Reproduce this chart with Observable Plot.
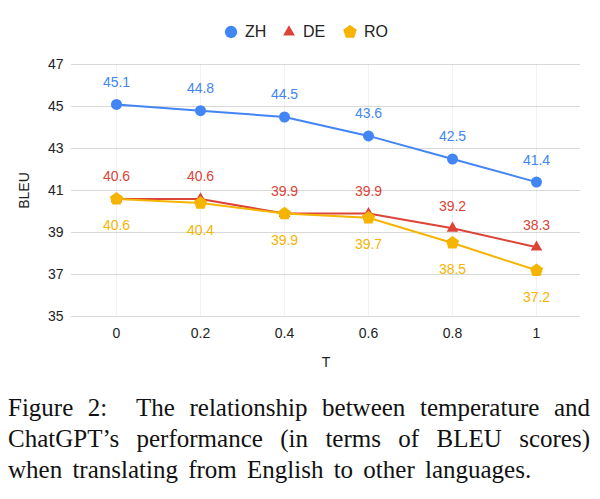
<!DOCTYPE html>
<html><head><meta charset="utf-8">
<script src="https://cdn.jsdelivr.net/npm/d3@7"></script>
<script src="https://cdn.jsdelivr.net/npm/@observablehq/plot@0.6"></script>
<style>
body{margin:0;background:#fff;width:600px;overflow:hidden;}
#legend{height:50px;position:relative;font-family:"Liberation Sans",Arial,sans-serif;font-size:16px;color:#222;}
#legend .item{position:absolute;top:22px;display:flex;align-items:center;height:20px;}
#legend svg{margin-right:7px;}
#caption{font-family:"Liberation Serif","Times New Roman",serif;font-size:25px;line-height:31px;margin:12px 10px 0 8px;color:#111;}
#caption .j{text-align:justify;text-align-last:justify;white-space:nowrap;}
#caption .l{text-align:left;word-spacing:4px;white-space:nowrap;}
</style></head>
<body>
<div id="legend"></div>
<div id="chart"></div>
<div id="caption"><div class="j">Figure 2:&nbsp; The relationship between temperature and</div><div class="j">ChatGPT’s performance (in terms of BLEU scores)</div><div class="l">when translating from English to other languages.</div></div>
<script>
const temps = ["0","0.2","0.4","0.6","0.8","1"];
const zh = [45.1,44.8,44.5,43.6,42.5,41.4];
const de = [40.6,40.6,39.9,39.9,39.2,38.3];
const ro = [40.6,40.4,39.9,39.7,38.5,37.2];
const seriesNames = ["ZH","DE","RO"];
const seriesColors = ["#4285F4","#DB4437","#F4B400"];
const yTicks = [35,37,39,41,43,45,47];

const pentagon = {draw(ctx, size){
  const r = Math.sqrt(size / (2.5*Math.sin(2*Math.PI/5)));
  for(let i=0;i<5;i++){const a=-Math.PI/2+i*2*Math.PI/5;const x=r*Math.cos(a),y=r*Math.sin(a); if(i===0)ctx.moveTo(x,y); else ctx.lineTo(x,y);}
  ctx.closePath();
}};
const symbols = ["circle","triangle",pentagon];
const sizes = [5.5,4.3,6];

const vals = [zh,de,ro];
const data = [];
seriesNames.forEach((s,k)=>temps.forEach((t,i)=>data.push({s,t,v:vals[k][i],k})));

// legend
const leg = document.getElementById("legend");
const legX = [224,282,343];
seriesNames.forEach((s,k)=>{
  const it=document.createElement("div");it.className="item";it.style.left=legX[k]+"px";
  const sym=d3.symbol(k===0?d3.symbolCircle:k===1?d3.symbolTriangle:pentagon, k===0?120:k===1?60:120)();
  it.innerHTML=`<svg width="14" height="14" viewBox="-7 -7 14 14"><path d="${sym}" fill="${seriesColors[k]}"/></svg><span>${s}</span>`;
  leg.appendChild(it);
});

const marks = [
  Plot.gridX(temps,{stroke:"#000",strokeOpacity:0.05}),
  Plot.gridY(yTicks,{stroke:"#000",strokeOpacity:0.15}),
  Plot.axisY(yTicks,{tickSize:0,tickPadding:8,fontSize:14,label:"BLEU",labelAnchor:"center",labelOffset:52,labelArrow:false}),
  Plot.axisX(temps,{tickSize:0,tickPadding:12,fontSize:14,label:"T",labelAnchor:"center",labelOffset:50,labelArrow:false}),
];
seriesNames.forEach((s,k)=>{
  const d = data.filter(r=>r.k===k);
  marks.push(Plot.line(d,{x:"t",y:"v",stroke:seriesColors[k],strokeWidth:2}));
});
seriesNames.forEach((s,k)=>{
  const d = data.filter(r=>r.k===k);
  marks.push(Plot.dot(d,{x:"t",y:"v",fill:seriesColors[k],symbol:()=>symbols[k],r:sizes[k],stroke:"none"}));
});
seriesNames.forEach((s,k)=>{
  const d = data.filter(r=>r.k===k);
  marks.push(Plot.text(d,{x:"t",y:"v",text:r=>r.v.toFixed(1),fill:seriesColors[k],fontSize:14,dy:k===2?27:-22}));
});

const chart = Plot.plot({
  width:600,height:330,
  marginTop:14,marginBottom:64,marginLeft:71,marginRight:20,
  x:{type:"point",domain:temps,padding:0.5},
  y:{domain:[35,47]},
  style:{fontFamily:"'Liberation Sans',Arial,sans-serif",fontSize:"14px",background:"#fff",color:"#222",overflow:"visible"},
  marks
});
document.getElementById("chart").appendChild(chart);
</script>
</body></html>
